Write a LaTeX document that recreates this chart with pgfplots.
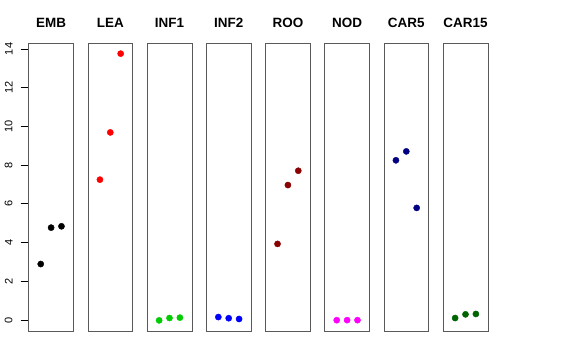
\documentclass[border=0pt]{standalone}
\usepackage{pgfplots}
\pgfplotsset{compat=1.18}
\usepackage{fontspec}
\setmainfont{Liberation Sans}
\definecolor{rgreen}{RGB}{0,205,0}
\definecolor{rdarkred}{RGB}{139,0,0}
\definecolor{rnavy}{RGB}{0,0,128}
\definecolor{rdarkgreen}{RGB}{0,100,0}
\definecolor{rmagenta}{RGB}{255,0,255}
\definecolor{rblue}{RGB}{0,0,255}
\definecolor{rred}{RGB}{255,0,0}
\pgfplotsset{
  panel/.style={
    scale only axis, width=44.8bp, height=288bp,
    xmin=-0.16, xmax=4.16, ymin=-0.57, ymax=14.31,
    xtick=\empty, ytick=\empty,
    axis line style={black!65, line width=0.8bp},
    anchor=south west,
    title style={font=\fontsize{13.5}{15}\selectfont\bfseries, at={(0.5,1)}, anchor=base, yshift=9.5bp, inner sep=0pt},
  },
  pts/.style={only marks, mark=*, mark size=3.1bp, color=#1, mark options={draw=#1, fill=#1}},
}
\begin{document}
\begin{tikzpicture}
\path[use as bounding box] (0,0) rectangle (576bp,360bp);
\begin{axis}[panel, at={(28.7bp,29bp)}, title={EMB},
  ytick={0,2,4,6,8,10,12,14}, ytick pos=left, tick align=outside,
  major tick length=8bp, tick style={black, line width=0.8bp},
  yticklabel style={rotate=90, anchor=south, inner sep=8bp, font=\fontsize{11}{13}\selectfont},
  /pgf/number format/assume math mode=true]
\addplot[pts=black] coordinates {(1,2.89) (2,4.77) (3,4.84)};
\end{axis}
\begin{axis}[panel, at={(87.9bp,29bp)}, title={LEA}]
\addplot[pts=rred] coordinates {(1,7.25) (2,9.69) (3,13.76)};
\end{axis}
\begin{axis}[panel, at={(147.1bp,29bp)}, title={INF1}]
\addplot[pts=rgreen] coordinates {(1,-0.02) (2,0.10) (3,0.12)};
\end{axis}
\begin{axis}[panel, at={(206.3bp,29bp)}, title={INF2}]
\addplot[pts=rblue] coordinates {(1,0.15) (2,0.09) (3,0.05)};
\end{axis}
\begin{axis}[panel, at={(265.5bp,29bp)}, title={ROO}]
\addplot[pts=rdarkred] coordinates {(1,3.93) (2,6.97) (3,7.71)};
\end{axis}
\begin{axis}[panel, at={(324.7bp,29bp)}, title={NOD}]
\addplot[pts=rmagenta] coordinates {(1,-0.01) (2,-0.01) (3,-0.01)};
\end{axis}
\begin{axis}[panel, at={(383.9bp,29bp)}, title={CAR5}]
\addplot[pts=rnavy] coordinates {(1,8.25) (2,8.71) (3,5.79)};
\end{axis}
\begin{axis}[panel, at={(443.1bp,29bp)}, title={CAR15}]
\addplot[pts=rdarkgreen] coordinates {(1,0.10) (2,0.29) (3,0.31)};
\end{axis}
\end{tikzpicture}
\end{document}
